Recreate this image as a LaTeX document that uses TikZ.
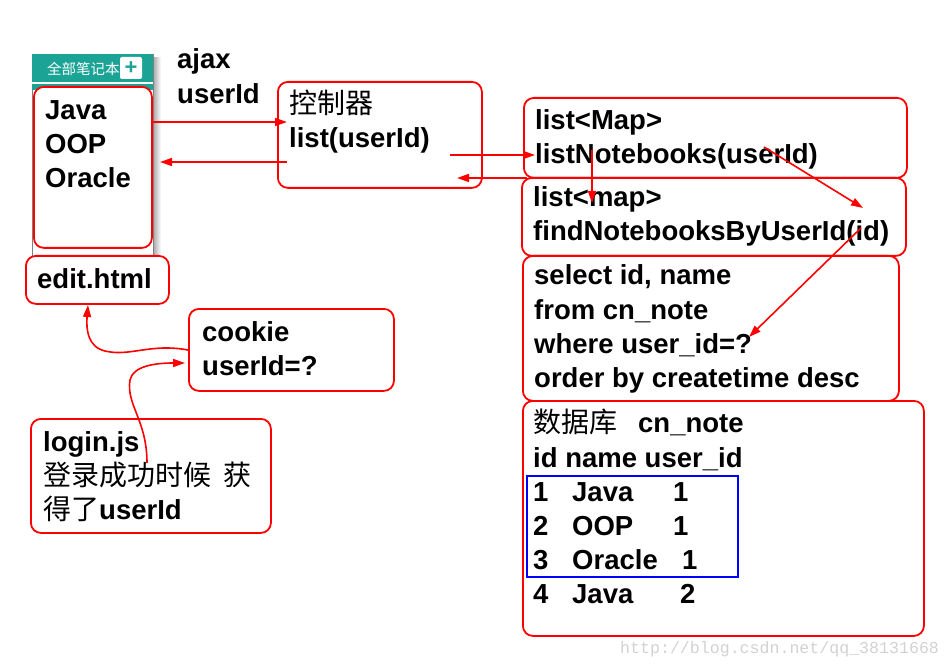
\documentclass[tikz,border=0pt]{standalone}
\usepackage{fontspec}
\setmainfont{Liberation Sans}
\newfontfamily\cjk{Noto Sans CJK SC}
\newfontfamily\wmfont{Liberation Mono}
\usepackage{color}
\usetikzlibrary{arrows.meta}
\definecolor{noteteal}{RGB}{27,163,150}

\begin{document}
\begin{tikzpicture}[x=1pt,y=-1pt,
  redbox/.style={draw=red, line width=1.8pt, rounded corners=10pt, fill=white, inner sep=0pt},
  txt/.style={anchor=base west, inner sep=0pt, font=\fontsize{27.5}{34}\selectfont\bfseries},
  zh/.style={anchor=base west, inner sep=0pt, font=\fontsize{28}{34}\selectfont\cjk},
  flow/.style={red, line width=1.6pt, -{Triangle[length=12pt,width=8pt]}}]
\useasboundingbox (0,0) rectangle (950,668);

% notebook panel
\shade[left color=gray!70, right color=white] (153,58) rectangle (161,268);
\node[draw=gray, fill=white, anchor=north west, inner sep=0pt, minimum width=121, minimum height=214] (panel) at (32,54) {};
\fill[noteteal] (32,54) rectangle (153,90);
\draw[white, line width=1.2pt] (32,83) -- (153,83);
\node[anchor=west, inner sep=0pt, text=white, font=\fontsize{14.5}{15}\selectfont\cjk] (hdr) at (47,69) {全部笔记本};
\node[fill=white, rounded corners=2pt, minimum size=22, inner sep=0pt, text=noteteal, font=\fontsize{22}{22}\selectfont\bfseries] (plus) at (131,68) {+};

\node[redbox, anchor=north west, minimum width=118, minimum height=161] (notes) at (33,86) {};
\node[redbox, anchor=north west, minimum width=143, minimum height=48] (edit) at (25,255) {};
\node[redbox, anchor=north west, minimum width=204, minimum height=106] (ctrl) at (277,81) {};
\node[redbox, anchor=north west, minimum width=383, minimum height=80] (svc) at (523,97) {};
\node[redbox, anchor=north west, minimum width=384, minimum height=78] (dao) at (521,177) {};
\node[redbox, anchor=north west, minimum width=376, minimum height=145] (sql) at (522,255) {};
\node[redbox, anchor=north west, minimum width=401, minimum height=235] (db) at (522,400) {};
\node[redbox, anchor=north west, minimum width=205, minimum height=82] (cookie) at (188,308) {};
\node[redbox, anchor=north west, minimum width=240, minimum height=114] (login) at (30,418) {};
\node[draw=blue, line width=1.6pt, anchor=north west, inner sep=0pt, minimum width=211, minimum height=101] (rows) at (526,475) {};

\node[txt] (ajax) at (177,69) {ajax};
\node[txt] (ajaxid) at (177,104) {userId};
\node[txt] (java) at (45,120) {Java};
\node[txt] (oop) at (45,154) {OOP};
\node[txt] (oracle) at (45,188) {Oracle};
\node[txt] (edittxt) at (37,289) {edit.html};
\node[zh] (ctrlname) at (289,114) {控制器};
\node[txt] (ctrllist) at (289,148) {list(userId)};
\node[txt] (svcret) at (535,130) {list<Map>};
\node[txt] (svcname) at (535,164) {listNotebooks(userId)};
\node[txt] (daoret) at (533,207) {list<map>};
\node[txt] (daoname) at (533,241) {findNotebooksByUserId(id)};
\node[txt] (sql1) at (534,285) {select id, name};
\node[txt] (sql2) at (534,319) {from cn\_note};
\node[txt] (sql3) at (534,353) {where user\_id=?};
\node[txt] (sql4) at (534,387) {order by createtime desc};
\node[txt] (dbname) at (533,432) {{\cjk\mdseries\fontsize{28}{34}\selectfont 数据库}\hspace{21pt}cn\_note};
\node[txt] (dbhead) at (533,467) {id name user\_id};
\node[txt] (row1) at (533,501) {\makebox[39pt][l]{1}\makebox[101pt][l]{Java}1};
\node[txt] (row2) at (533,535) {\makebox[39pt][l]{2}\makebox[101pt][l]{OOP}1};
\node[txt] (row3) at (533,569) {\makebox[39pt][l]{3}\makebox[110pt][l]{Oracle}1};
\node[txt] (row4) at (533,603) {\makebox[39pt][l]{4}\makebox[108pt][l]{Java}2};
\node[txt] (cookie1) at (202,341) {cookie};
\node[txt] (cookie2) at (202,375) {userId=?};
\node[txt] (login1) at (43,451) {login.js};
\node[zh] (login2) at (43,485) {登录成功时候\hspace{12pt}获};
\node[zh] (login3) at (43,519) {得了{\rmfamily\bfseries\fontsize{27.5}{34}\selectfont userId}};
\node[anchor=base west, inner sep=0pt, text=gray!35, font=\fontsize{16.6}{17}\selectfont\wmfont] (mark) at (620,653) {http://blog.csdn.net/qq\_38131668};

% end points of the arrows
\coordinate (ajaxin) at (287,122);
\coordinate (ctrlout) at (287,162);
\coordinate (notesin) at (160,162);
\coordinate (callsvc) at (450,155);
\coordinate (svcin) at (535,155);
\coordinate (daoout) at (527,178);
\coordinate (ctrlin) at (457,178);
\coordinate (n1) at (592,150);
\coordinate (n2) at (592,203);
\coordinate (m1) at (764,147);
\coordinate (m2) at (863,208);
\coordinate (k1) at (861,228);
\coordinate (k2) at (749,337);
\coordinate (cookieout) at (188,350);
\coordinate (editin) at (88,305);
\coordinate (loginout) at (147,463);
\coordinate (cookiein) at (185,363);

\draw[flow] (notes.east |- ajaxin) -- (ajaxin);
\draw[flow] (ctrlout) -- (notesin);
\draw[flow] (callsvc) -- (svcin);
\draw[flow] (daoout) -- (ctrlin);
\draw[flow] (n1) -- (n2);
\draw[flow] (m1) -- (m2);
\draw[flow] (k1) -- (k2);
\draw[flow] (cookieout) .. controls (150,343) and (130,357) .. (105,351) .. controls (88,347) and (86,330) .. (editin);
\draw[flow] (loginout) .. controls (147,420) and (126,405) .. (130,380) .. controls (133,366) and (155,363) .. (cookiein);
\end{tikzpicture}
\end{document}
